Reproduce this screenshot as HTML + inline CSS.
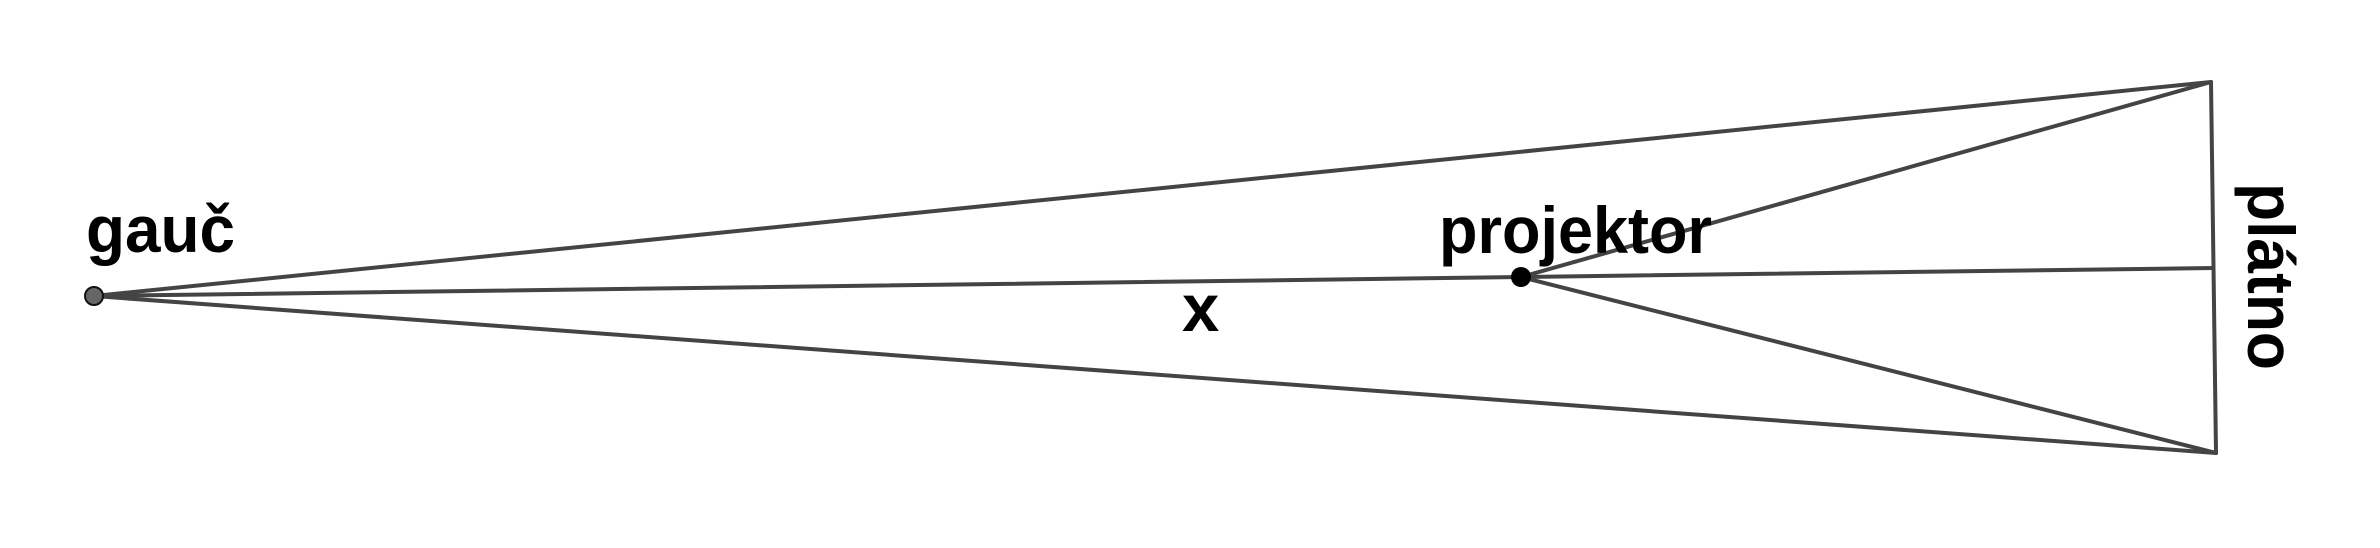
<!DOCTYPE html>
<html><head><meta charset="utf-8"><style>html,body{margin:0;padding:0;background:#fff}svg{display:block}</style></head>
<body>
<svg width="2380" height="548" viewBox="0 0 2380 548" xmlns="http://www.w3.org/2000/svg">
<g stroke="#444" stroke-width="4" fill="none" stroke-linecap="round">
<line x1="94" y1="296" x2="2211" y2="82"/>
<line x1="94" y1="296" x2="2216" y2="453"/>
<line x1="94" y1="296" x2="1521" y2="277"/>
<line x1="1521" y1="277" x2="2213" y2="268"/>
<line x1="1521" y1="277" x2="2211" y2="82"/>
<line x1="1521" y1="277" x2="2216" y2="453"/>
<line x1="2211" y1="82" x2="2216" y2="453"/>
</g>
<circle cx="94" cy="296" r="9" fill="#666" stroke="#111" stroke-width="2"/>
<circle cx="1521" cy="277" r="10" fill="#000"/>
<g font-family="Liberation Sans, Arial, sans-serif" font-weight="bold" font-size="66" fill="#000">
<text x="86" y="252" textLength="149" lengthAdjust="spacingAndGlyphs">gauč</text>
<text x="1439" y="253" textLength="273" lengthAdjust="spacingAndGlyphs">projektor</text>
<text x="1182" y="331" font-size="67">x</text>
<text transform="translate(2248,183) rotate(90)" textLength="187" lengthAdjust="spacingAndGlyphs">plátno</text>
</g>
</svg>
</body></html>
